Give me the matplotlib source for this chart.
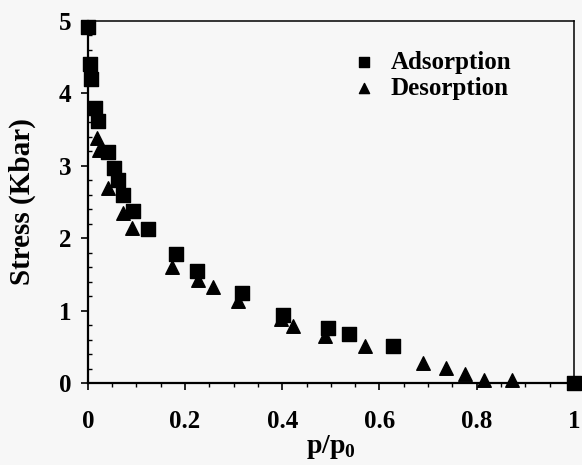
import matplotlib
matplotlib.use("Agg")
import matplotlib.pyplot as plt
from matplotlib.ticker import MultipleLocator

# datos
ads_x = [0.0, 0.004, 0.006, 0.015, 0.020, 0.041, 0.053, 0.062, 0.072, 0.092, 0.124,
         0.181, 0.225, 0.318, 0.402, 0.495, 0.538, 0.628, 1.0]
ads_y = [4.92, 4.40, 4.20, 3.80, 3.62, 3.19, 2.97, 2.80, 2.60, 2.38, 2.13,
         1.78, 1.55, 1.24, 0.94, 0.76, 0.68, 0.51, 0.0]

des_x = [0.018, 0.022, 0.041, 0.072, 0.091, 0.173, 0.226, 0.257, 0.308, 0.398,
         0.423, 0.487, 0.571, 0.690, 0.737, 0.776, 0.815, 0.873]
des_y = [3.38, 3.22, 2.69, 2.35, 2.14, 1.60, 1.42, 1.33, 1.13, 0.88,
         0.79, 0.65, 0.51, 0.28, 0.21, 0.12, 0.05, 0.05]

xticks = [0, 0.2, 0.4, 0.6, 0.8, 1]
xticklabels = ['0', '0.2', '0.4', '0.6', '0.8', '1']

plt.rcParams['font.family'] = ['Liberation Serif', 'DejaVu Serif']
plt.rcParams['font.weight'] = 'bold'
plt.rcParams['mathtext.fontset'] = 'custom'
plt.rcParams['mathtext.bf'] = 'Liberation Serif:bold'
plt.rcParams['mathtext.rm'] = 'Liberation Serif:bold'

fig = plt.figure(figsize=(5.82, 4.65), dpi=100, facecolor='#f7f7f7')
ax = fig.add_axes([0.151, 0.176, 0.835, 0.779])
ax.set_facecolor('#f7f7f7')

ax.scatter(ads_x, ads_y, marker='s', s=110, color='black', label='Adsorption', zorder=3, clip_on=False)
ax.scatter(des_x, des_y, marker='^', s=95, color='black', label='Desorption', zorder=3, clip_on=False)

ax.set_xlim(0, 1)
ax.set_ylim(0, 5)
ax.set_xticks(xticks)
ax.set_xticklabels(xticklabels)
ax.xaxis.set_minor_locator(MultipleLocator(0.05))
ax.yaxis.set_major_locator(MultipleLocator(1))
ax.yaxis.set_minor_locator(MultipleLocator(0.2))

ax.tick_params(axis='both', which='major', labelsize=18, length=5, width=1.2, direction='out')
ax.tick_params(axis='x', which='major', pad=14)
ax.tick_params(axis='y', which='major', pad=7)
ax.tick_params(axis='x', which='minor', length=3, width=1, direction='out')
ax.tick_params(axis='y', which='minor', length=3, width=1, direction='in')
for sp in ['left', 'bottom']:
    ax.spines[sp].set_linewidth(1.6)
for sp in ['top', 'right']:
    ax.spines[sp].set_linewidth(1.1)

ax.set_xlabel('p/p$_\\mathbf{0}$', fontsize=20, fontweight='bold', labelpad=0)
ax.set_ylabel('Stress (Kbar)', fontsize=21, fontweight='bold', labelpad=16)

ax.legend(loc='upper left', bbox_to_anchor=(0.497, 0.945), frameon=False, fontsize=18,
          handletextpad=0.05, labelspacing=0.12, markerscale=0.75, borderaxespad=0)

fig.savefig('out.png', dpi=100, facecolor=fig.get_facecolor())
